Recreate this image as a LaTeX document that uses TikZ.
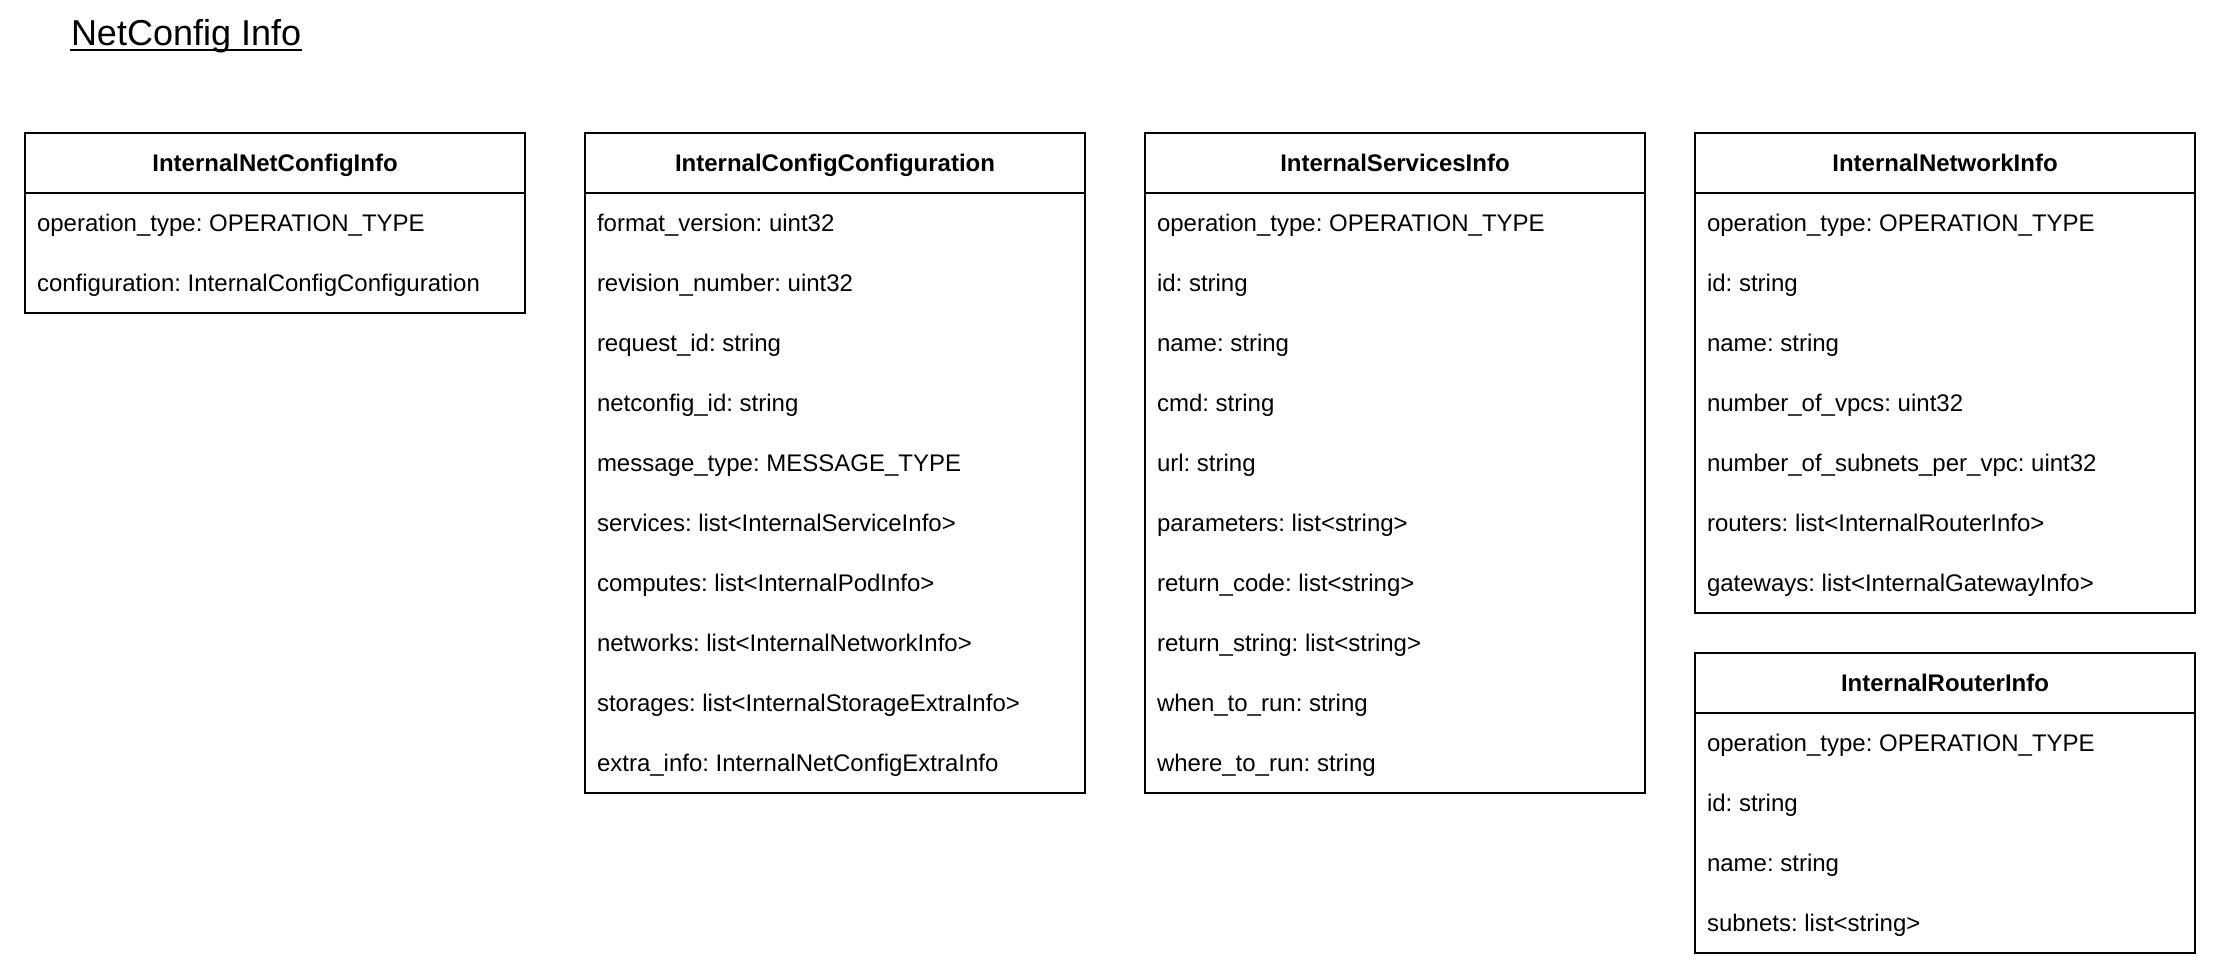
\documentclass[tikz,border=0pt]{standalone}
\usepackage{fontspec}
\setmainfont{Liberation Sans}
\frenchspacing
\begin{document}
\frenchspacing
\begin{tikzpicture}[x=1pt,y=-1pt,line width=2pt,
  box/.style={draw,line width=2pt,anchor=north west,minimum width=500pt,inner sep=0pt,outer sep=0pt},
  head/.style={font=\fontsize{24}{28}\selectfont\bfseries,inner sep=0pt,anchor=base},
  row/.style={font=\fontsize{24}{28}\selectfont\frenchspacing,inner sep=0pt,anchor=base west},
  sep/.style={line width=2pt}]
\useasboundingbox (0,0) rectangle (2214,966);
\fill[white] (0,0) rectangle (2214,966);

% title
\node[font=\fontsize{36}{40}\selectfont,inner sep=0pt,anchor=base west] (title) at (70,46) {NetConfig Info};
\draw[line width=2pt] ([yshift=-4pt]title.base west) -- ([yshift=-4pt]title.base east);

% boxes
\node[box,minimum height=180pt] (c1) at (25,133) {};
\node[box,minimum height=660pt] (c2) at (585,133) {};
\node[box,minimum height=660pt] (c3) at (1145,133) {};
\node[box,minimum height=480pt] (c4) at (1695,133) {};
\node[box,minimum height=300pt] (c5) at (1695,653) {};

\foreach \c in {c1,c2,c3,c4,c5}{
  \draw[sep] ([yshift=-60pt]\c.north west) -- ([yshift=-60pt]\c.north east);
}

% headers
\node[head] (c1h) at ([yshift=-38.6pt]c1.north) {InternalNetConfigInfo};
\node[head] (c2h) at ([yshift=-38.6pt]c2.north) {InternalConfigConfiguration};
\node[head] (c3h) at ([yshift=-38.6pt]c3.north) {InternalServicesInfo};
\node[head] (c4h) at ([yshift=-38.6pt]c4.north) {InternalNetworkInfo};
\node[head] (c5h) at ([yshift=-38.6pt]c5.north) {InternalRouterInfo};

% rows
\foreach \t [count=\i from 0] in {operation\_type: OPERATION\_TYPE,configuration: InternalConfigConfiguration}
  \node[row] (c1r\i) at ([xshift=11pt,yshift={-(98.6+60*\i)*1pt}]c1.north west) {\t};

\foreach \t [count=\i from 0] in {format\_version: uint32,revision\_number: uint32,request\_id: string,netconfig\_id: string,message\_type: MESSAGE\_TYPE,services: list<InternalServiceInfo>,computes: list<InternalPodInfo>,networks: list<InternalNetworkInfo>,storages: list<InternalStorageExtraInfo>,extra\_info: InternalNetConfigExtraInfo}
  \node[row] (c2r\i) at ([xshift=11pt,yshift={-(98.6+60*\i)*1pt}]c2.north west) {\t};

\foreach \t [count=\i from 0] in {operation\_type: OPERATION\_TYPE,id: string,name: string,cmd: string,url: string,parameters: list<string>,return\_code: list<string>,return\_string: list<string>,when\_to\_run: string,where\_to\_run: string}
  \node[row] (c3r\i) at ([xshift=11pt,yshift={-(98.6+60*\i)*1pt}]c3.north west) {\t};

\foreach \t [count=\i from 0] in {operation\_type: OPERATION\_TYPE,id: string,name: string,number\_of\_vpcs: uint32,number\_of\_subnets\_per\_vpc: uint32,routers: list<InternalRouterInfo>,gateways: list<InternalGatewayInfo>}
  \node[row] (c4r\i) at ([xshift=11pt,yshift={-(98.6+60*\i)*1pt}]c4.north west) {\t};

\foreach \t [count=\i from 0] in {operation\_type: OPERATION\_TYPE,id: string,name: string,subnets: list<string>}
  \node[row] (c5r\i) at ([xshift=11pt,yshift={-(98.6+60*\i)*1pt}]c5.north west) {\t};
\end{tikzpicture}
\end{document}
